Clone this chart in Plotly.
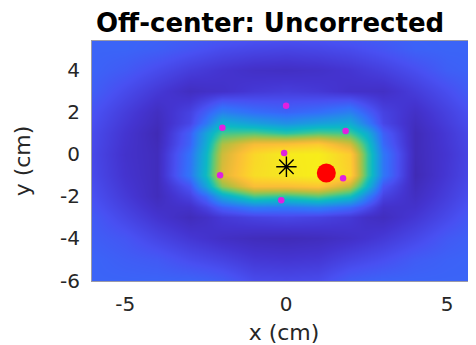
import plotly.graph_objects as go

# grid (cm), finer around the central blob
x_cm = [-6, -5, -4, -3, -2.5, -2, -1, 0, 1, 2, 2.5, 3, 4, 5, 6]
y_cm = [-6, -5, -4, -3, -2.5, -2, -1.5, -1, 0, 0.5, 1, 1.5, 2, 3, 4, 5, 6]

# normalized field values, rows from y=-6 (bottom) to y=6 (top)
row_ym6 = [0.16, 0.16, 0.16, 0.16, 0.155, 0.145, 0.11, 0.105, 0.11, 0.148, 0.155, 0.16, 0.16, 0.16, 0.16]
row_ym5 = [0.16, 0.148, 0.139, 0.113, 0.104, 0.094, 0.07, 0.065, 0.07, 0.097, 0.108, 0.118, 0.144, 0.155, 0.16]
row_ym4 = [0.148, 0.131, 0.097, 0.067, 0.056, 0.044, 0.03, 0.025, 0.032, 0.048, 0.06, 0.073, 0.103, 0.138, 0.156]
row_ym3 = [0.139, 0.099, 0.06, 0.03, 0.045, 0.07, 0.09, 0.10, 0.09, 0.07, 0.045, 0.035, 0.067, 0.106, 0.148]
row_ym25 = [0.128, 0.086, 0.045, 0.05, 0.09, 0.15, 0.21, 0.2, 0.22, 0.17, 0.11, 0.05, 0.053, 0.094, 0.137]
row_ym2 = [0.118, 0.073, 0.03, 0.09, 0.17, 0.32, 0.48, 0.45, 0.50, 0.40, 0.22, 0.09, 0.039, 0.082, 0.127]
row_ym15 = [0.112, 0.065, 0.03, 0.13, 0.31, 0.56, 0.75, 0.75, 0.78, 0.63, 0.37, 0.13, 0.03, 0.075, 0.12]
row_ym1 = [0.105, 0.058, 0.03, 0.2, 0.39, 0.68, 0.86, 0.9, 0.94, 0.82, 0.46, 0.2, 0.02, 0.067, 0.114]
row_y0 = [0.101, 0.053, 0.03, 0.19, 0.37, 0.65, 0.84, 0.92, 0.93, 0.8, 0.46, 0.2, 0.025, 0.063, 0.11]
row_y05 = [0.105, 0.057, 0.025, 0.16, 0.34, 0.6, 0.74, 0.76, 0.8, 0.66, 0.42, 0.17, 0.025, 0.067, 0.113]
row_y1 = [0.108, 0.061, 0.02, 0.15, 0.31, 0.47, 0.49, 0.44, 0.49, 0.47, 0.34, 0.15, 0.025, 0.07, 0.117]
row_y15 = [0.116, 0.07, 0.03, 0.1, 0.2, 0.35, 0.3, 0.26, 0.3, 0.33, 0.21, 0.1, 0.035, 0.08, 0.125]
row_y2 = [0.124, 0.08, 0.038, 0.09, 0.15, 0.22, 0.18, 0.16, 0.18, 0.22, 0.15, 0.09, 0.046, 0.089, 0.132]
row_y3 = [0.147, 0.108, 0.071, 0.037, 0.045, 0.05, 0.07, 0.08, 0.07, 0.05, 0.047, 0.044, 0.078, 0.115, 0.156]
row_y4 = [0.158, 0.14, 0.11, 0.08, 0.07, 0.06, 0.045, 0.041, 0.048, 0.063, 0.075, 0.086, 0.115, 0.149, 0.16]
row_y5 = [0.16, 0.16, 0.15, 0.13, 0.12, 0.11, 0.10, 0.095, 0.10, 0.11, 0.12, 0.13, 0.155, 0.16, 0.16]
row_y6 = [0.16, 0.16, 0.16, 0.16, 0.16, 0.16, 0.15, 0.15, 0.15, 0.16, 0.16, 0.16, 0.16, 0.16, 0.16]

field = [row_ym6, row_ym5, row_ym4, row_ym3, row_ym25, row_ym2, row_ym15, row_ym1,
         row_y0, row_y05, row_y1, row_y15, row_y2, row_y3, row_y4, row_y5, row_y6]

# sensor points
sensor_x = [0.0, -1.98, 1.85, -0.06, -2.05, 1.77, -0.15]
sensor_y = [2.3, 1.25, 1.1, 0.06, -1.0, -1.14, -2.19]

# estimated center (star) and true source (red)
star_x = [0.01]
star_y = [-0.6]
source_x = [1.25]
source_y = [-0.89]

x_ticks = [-5, 0, 5]
x_tick_labels = ["-5", "0", "5"]
y_ticks = [-6, -4, -2, 0, 2, 4]
y_tick_labels = ["-6", "-4", "-2", "0", "2", "4"]

parula = [
    [0.00, "rgb(62,38,168)"],
    [0.06, "rgb(68,52,208)"],
    [0.12, "rgb(72,80,242)"],
    [0.18, "rgb(52,110,250)"],
    [0.25, "rgb(35,140,232)"],
    [0.32, "rgb(20,166,214)"],
    [0.38, "rgb(12,184,196)"],
    [0.44, "rgb(42,195,165)"],
    [0.50, "rgb(92,200,120)"],
    [0.56, "rgb(142,196,86)"],
    [0.62, "rgb(186,190,62)"],
    [0.69, "rgb(226,186,56)"],
    [0.75, "rgb(250,190,55)"],
    [0.81, "rgb(252,206,45)"],
    [0.88, "rgb(246,226,35)"],
    [1.00, "rgb(249,251,14)"],
]

fig = go.Figure()
fig.add_trace(go.Heatmap(
    x=x_cm, y=y_cm, z=field, zsmooth="best", colorscale=parula,
    zmin=0, zmax=1, showscale=False, hoverinfo="skip"))
fig.add_trace(go.Scatter(
    x=sensor_x, y=sensor_y, mode="markers",
    marker=dict(color="#e020e0", size=6.5), showlegend=False))
fig.add_trace(go.Scatter(
    x=source_x, y=source_y, mode="markers",
    marker=dict(color="#ff0000", size=19), showlegend=False))
fig.add_trace(go.Scatter(
    x=star_x, y=star_y, mode="markers",
    marker=dict(symbol="asterisk-open", color="black", size=17,
                line=dict(color="black", width=1.4)), showlegend=False))

font_main = "DejaVu Sans, Arial, sans-serif"
# the page body adds an 8px offset, so the figure is 8px smaller than the window
fig.update_layout(
    width=468, height=337,
    margin=dict(l=84, r=0, t=33, b=64),
    paper_bgcolor="white", plot_bgcolor="white",
    title=dict(text="<b>Off-center: Uncorrected</b>", x=0.56, xanchor="center",
               y=0.955, yanchor="middle",
               font=dict(family=font_main, size=26, color="black")),
    xaxis=dict(range=[-6.03, 5.9], tickvals=x_ticks, ticktext=x_tick_labels,
               ticks="", showgrid=False, automargin=False,
               zeroline=False, showline=True, linecolor="#9a9aa8", linewidth=1,
               mirror=True, ticklabelstandoff=5,
               tickfont=dict(family=font_main, size=20, color="#262626"),
               title=dict(text="x (cm)", standoff=15,
                          font=dict(family=font_main, size=22, color="#262626"))),
    yaxis=dict(range=[-6.02, 5.37], tickvals=y_ticks, ticktext=y_tick_labels,
               ticks="", showgrid=False, automargin=False,
               zeroline=False, showline=True, linecolor="#9a9aa8", linewidth=1,
               mirror=True, ticklabelstandoff=7,
               tickfont=dict(family=font_main, size=20, color="#262626"),
               title=dict(text="y (cm)", standoff=23,
                          font=dict(family=font_main, size=22, color="#262626"))),
)

fig.write_html("out.html")
